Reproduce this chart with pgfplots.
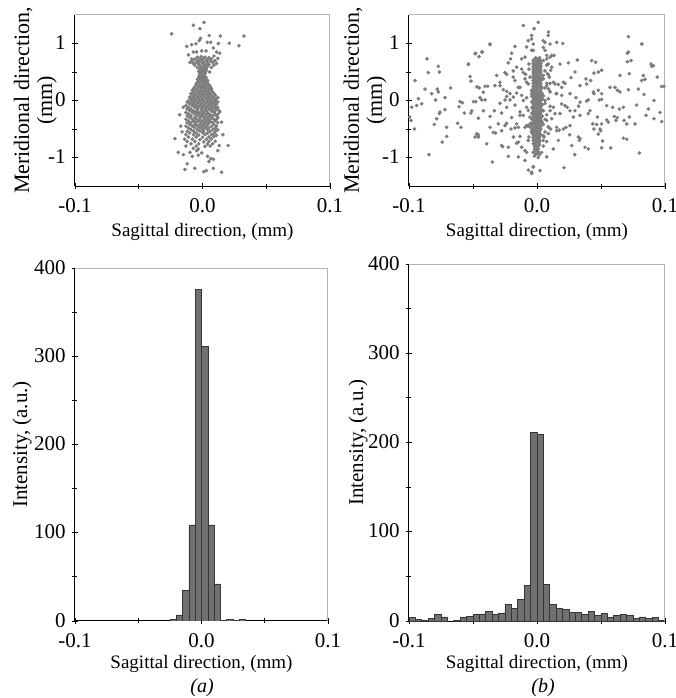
\documentclass[border=0pt]{standalone}
\usepackage{fontspec}
\setmainfont{Liberation Serif}
\usepackage{pgfplots}
\pgfplotsset{compat=1.18}

\definecolor{dotgray}{RGB}{125,125,125}
\definecolor{barfill}{RGB}{112,112,112}
\definecolor{baredge}{RGB}{55,55,55}
\definecolor{framegray}{RGB}{180,180,180}

\pgfplotsset{
  panel/.style={
    scale only axis, anchor=south west,
    axis x line*=bottom, axis y line*=left,
    axis line style={-, black, line width=0.5pt},
    xmin=-0.1, xmax=0.1,
    xtick={-0.1,0,0.1}, xticklabels={-0.1,0.0,0.1},
    minor xtick={-0.05,0.05},
    tick align=center, major tick length=3pt, minor tick length=2.5pt,
    tick style={black, line width=0.4pt},
    tick label style={font=\fontsize{10.5}{12}\selectfont, inner sep=0pt},
    xticklabel style={yshift=-4.6pt},
    yticklabel style={xshift=-3pt, yshift=0.4pt},
    xlabel={Sagittal direction, (mm)},
    xlabel style={font=\fontsize{9.5}{11}\selectfont, inner sep=0pt, anchor=north},
    ylabel style={inner sep=0pt, anchor=south, align=center},
  },
  scat/.style={panel, ymin=-1.5, ymax=1.5,
    ytick={-1,0,1}, yticklabels={-1,0,1}, minor ytick={-0.5,0.5},
    ylabel={Meridional direction,\\(mm)},
    ylabel style={font=\fontsize{11}{11.5}\selectfont},
    xlabel style={at={(axis description cs:0.5,-0.216)}},
  },
  hist/.style={panel, ymin=0, ymax=400,
    ytick={0,100,200,300,400}, yticklabels={0,100,200,300,400},
    minor ytick={50,150,250,350},
    ylabel={Intensity, (a.u.)},
    ylabel style={font=\fontsize{10.5}{12}\selectfont},
  },
  dots/.style={color=dotgray, only marks, mark=*, mark size=0.7pt, mark options={draw=none, fill=dotgray}},
  bars/.style={ybar, bar width=0.005, fill=barfill, draw=baredge, line width=0.3pt},
}

\begin{document}
\begin{tikzpicture}
\useasboundingbox (0,0) rectangle (338pt,349pt);

% top left scatter
\begin{axis}[scat, at={(37.5pt,256pt)}, width=127.5pt, height=85.5pt,
  ylabel style={at={(axis description cs:-0.07,0.5)}}]
\addplot[dots] coordinates {
(-0.0242,1.17)(-0.0072,1.32)(-0.002,1.26)(0.0012,1.37)(0.0053,1.14)(0.014,1.13)(0.0325,1.13)(0.021,1.005)(0.0286,0.96)(-0.0124,0.95)(-0.0085,0.98)(-0.0051,0.995)(-0.0025,1.05)(-0.0015,1.09)(0.0038,1.02)(0.0064,1.02)(0.0125,1.0)(0.0085,0.92)(-0.0072,0.85)(-0.0046,0.85)(-0.0006,0.87)(0.0028,0.87)(0.011,0.85)(0.0135,0.83)(-0.0085,0.73)(-0.0098,0.67)(-0.0072,0.65)(0.0098,0.7)(0.011,0.65)(0.0056,0.5)(0.003,0.56)(0.009,0.78)(0.012,0.74)(-0.011,0.8)
(-0.004,0.76)(-0.001,0.77)(0.002,0.76)(0.005,0.75)(-0.006,0.73)(-0.002,0.73)(0.001,0.74)(0.004,0.72)(0.007,0.73)(-0.008,0.70)(-0.004,0.70)(0,0.71)(0.003,0.70)(0.006,0.69)(-0.005,0.67)(-0.002,0.68)(0.001,0.67)(0.004,0.66)(0.008,0.67)(-0.003,0.64)(0,0.65)(0.002,0.63)(0.005,0.63)(-0.006,0.62)(-0.002,0.61)(0.001,0.60)(0.004,0.60)(-0.004,0.58)(-0.001,0.58)(0.002,0.57)(0.007,0.58)(0.009,0.62)
(-0.002,0.55)(0,0.555)(0.002,0.55)(-0.001,0.53)(0.001,0.53)(0.003,0.525)(-0.003,0.51)(-0.001,0.505)(0.001,0.50)(0.002,0.49)(-0.002,0.48)(0,0.475)(0.002,0.47)(-0.002,0.455)(0,0.45)(0.001,0.44)(-0.001,0.43)(0.002,0.42)(-0.003,0.42)(0,0.41)(0.003,0.40)(-0.002,0.39)(0.001,0.385)(-0.004,0.37)(-0.001,0.365)(0.002,0.36)(0.004,0.35)(-0.003,0.345)(0,0.34)(0.002,0.33)(-0.004,0.32)(-0.002,0.315)(0.001,0.31)(0.004,0.305)(-0.005,0.29)(-0.002,0.29)(0.001,0.285)(0.003,0.28)(0.005,0.275)(-0.004,0.265)(-0.001,0.26)(0.002,0.255)(0.006,0.25)
(-0.006,0.24)(-0.003,0.24)(0,0.235)(0.003,0.24)(0.006,0.235)(-0.007,0.21)(-0.004,0.21)(-0.001,0.215)(0.002,0.21)(0.005,0.205)(0.007,0.21)(-0.008,0.18)(-0.005,0.185)(-0.002,0.18)(0.001,0.18)(0.004,0.175)(0.007,0.18)(-0.007,0.15)(-0.004,0.15)(-0.001,0.155)(0.002,0.15)(0.005,0.145)(0.008,0.15)(-0.009,0.12)(-0.006,0.12)(-0.003,0.125)(0,0.12)(0.003,0.12)(0.006,0.115)(0.009,0.12)(-0.008,0.09)(-0.005,0.09)(-0.002,0.095)(0.001,0.09)(0.004,0.09)(0.007,0.085)(0.010,0.09)(-0.010,0.06)(-0.007,0.06)(-0.004,0.065)(-0.001,0.06)(0.002,0.06)(0.005,0.055)(0.008,0.06)(-0.009,0.03)(-0.006,0.03)(-0.003,0.035)(0,0.03)(0.003,0.03)(0.006,0.025)(0.009,0.03)(0.011,0.035)(-0.011,0.0)(-0.008,0.0)(-0.005,0.005)(-0.002,0.0)(0.001,0.0)(0.004,-0.005)(0.007,0.0)(0.010,0.0)
(-0.012,-0.03)(-0.009,-0.03)(-0.006,-0.025)(-0.003,-0.03)(0,-0.03)(0.003,-0.035)(0.006,-0.03)(0.009,-0.03)(0.012,-0.025)(-0.010,-0.06)(-0.007,-0.06)(-0.004,-0.055)(-0.001,-0.06)(0.002,-0.06)(0.005,-0.065)(0.008,-0.06)(0.011,-0.06)(-0.013,-0.09)(-0.008,-0.09)(-0.005,-0.085)(-0.002,-0.09)(0.001,-0.09)(0.004,-0.095)(0.007,-0.09)(0.010,-0.09)(-0.011,-0.12)(-0.006,-0.12)(-0.003,-0.115)(0,-0.12)(0.003,-0.12)(0.006,-0.125)(0.009,-0.12)(0.012,-0.12)(-0.012,-0.15)(-0.009,-0.15)(-0.004,-0.145)(-0.001,-0.15)(0.002,-0.15)(0.005,-0.155)(0.008,-0.15)(0.011,-0.15)(-0.010,-0.18)(-0.007,-0.18)(-0.004,-0.175)(0,-0.18)(0.003,-0.18)(0.007,-0.185)(0.010,-0.18)(0.013,-0.18)(-0.013,-0.21)(-0.008,-0.21)(-0.005,-0.205)(-0.002,-0.21)(0.001,-0.21)(0.004,-0.215)(0.009,-0.21)(-0.011,-0.24)(-0.006,-0.24)(-0.003,-0.235)(0,-0.24)(0.003,-0.24)(0.006,-0.245)(0.010,-0.24)(0.012,-0.24)(-0.012,-0.27)(-0.009,-0.27)(-0.004,-0.265)(-0.001,-0.27)(0.002,-0.27)(0.005,-0.275)(0.008,-0.27)(0.011,-0.27)(-0.010,-0.30)(-0.006,-0.30)(-0.002,-0.295)(0.001,-0.30)(0.004,-0.30)(0.007,-0.305)(0.012,-0.30)(-0.013,-0.33)(-0.008,-0.33)(-0.005,-0.325)(-0.002,-0.33)(0.002,-0.33)(0.005,-0.335)(0.009,-0.33)(0.011,-0.33)(-0.011,-0.36)(-0.007,-0.36)(-0.003,-0.355)(0,-0.36)(0.003,-0.36)(0.006,-0.365)(0.010,-0.36)(-0.012,-0.39)(-0.009,-0.39)(-0.005,-0.385)(-0.001,-0.39)(0.002,-0.39)(0.005,-0.395)(0.008,-0.39)(0.012,-0.39)(-0.010,-0.42)(-0.006,-0.42)(-0.002,-0.415)(0.001,-0.42)(0.004,-0.42)(0.009,-0.425)(-0.013,-0.45)(-0.008,-0.45)(-0.004,-0.445)(0,-0.45)(0.003,-0.45)(0.007,-0.455)(0.011,-0.45)(-0.011,-0.48)(-0.006,-0.48)(-0.002,-0.475)(0.002,-0.48)(0.005,-0.48)(0.010,-0.485)(-0.009,-0.51)(-0.004,-0.51)(0,-0.505)(0.004,-0.51)(0.008,-0.51)(0.012,-0.515)(-0.012,-0.54)(-0.007,-0.54)(-0.002,-0.535)(0.001,-0.54)(0.006,-0.54)(0.010,-0.545)(-0.010,-0.57)(-0.005,-0.57)(0,-0.565)(0.004,-0.57)(0.009,-0.575)(-0.013,-0.60)(-0.007,-0.60)(-0.003,-0.605)(0.002,-0.60)(0.007,-0.60)(0.011,-0.61)(-0.011,-0.64)(-0.005,-0.64)(0,-0.645)(0.005,-0.64)(0.009,-0.635)(-0.014,-0.68)(-0.008,-0.68)(-0.002,-0.685)(0.003,-0.68)(0.007,-0.675)(-0.012,-0.72)(-0.006,-0.72)(0.001,-0.725)(0.005,-0.72)(0.010,-0.715)(-0.009,-0.76)(-0.003,-0.76)(0.004,-0.765)(0.008,-0.76)(-0.013,-0.80)(-0.005,-0.80)(0.002,-0.805)(0.006,-0.80)
(-0.0216,-0.67)(-0.018,-0.25)(0.0202,-0.79)(0.0131,-0.79)(-0.019,-0.91)(-0.015,-0.95)(-0.0098,-0.91)(-0.0072,-0.84)(-0.0033,-0.85)(-0.0006,-0.92)(0.0065,-1.02)(0.005,-1.07)(-0.012,-1.11)(-0.0138,-1.21)(-0.006,-1.19)(0.003,-1.23)(0.0085,-1.19)(0.015,-1.26)(0.0085,-1.03)(-0.0033,-0.96)(-0.0046,-0.88)(0.001,-1.25)(0.004,-0.98)(0.012,-0.88)(-0.016,-0.55)(0.016,-0.6)(-0.017,-0.45)(0.015,-0.38)(0.0135,-0.2)(-0.015,-0.12)(0.012,0.05)(-0.008,-0.98)
};
\draw[framegray, line width=0.5pt] (rel axis cs:0,1) -- (rel axis cs:1,1) -- (rel axis cs:1,0);
\end{axis}

% top right scatter
\begin{axis}[scat, at={(204.5pt,256pt)}, width=128pt, height=85.5pt,
  ylabel style={at={(axis description cs:-0.086,0.5)}}]
\addplot[dots] coordinates {
(-0.001,0.75)(0.002,0.75)(-0.002,0.725)(0.001,0.725)(-0.003,0.70)(0,0.70)(0.003,0.70)(-0.001,0.675)(0.002,0.675)(-0.003,0.65)(0,0.65)(0.003,0.65)(-0.002,0.625)(0.001,0.625)(-0.003,0.60)(0,0.60)(0.003,0.60)(-0.001,0.575)(0.002,0.575)(-0.003,0.55)(0,0.55)(0.003,0.55)(-0.002,0.525)(0.001,0.525)(-0.003,0.50)(0,0.50)(0.003,0.50)(-0.001,0.475)(0.002,0.475)(-0.003,0.45)(0,0.45)(0.003,0.45)(-0.002,0.425)(0.001,0.425)(-0.003,0.40)(0,0.40)(0.003,0.40)(-0.001,0.375)(0.002,0.375)(-0.003,0.35)(0,0.35)(0.003,0.35)(-0.002,0.325)(0.001,0.325)(-0.003,0.30)(0,0.30)(0.003,0.30)(-0.001,0.275)(0.002,0.275)(-0.003,0.25)(0,0.25)(0.003,0.25)(-0.002,0.225)(0.001,0.225)(0.004,0.225)(-0.003,0.20)(0,0.20)(0.003,0.20)(-0.004,0.175)(-0.001,0.175)(0.002,0.175)(-0.003,0.15)(0,0.15)(0.003,0.15)(-0.002,0.125)(0.001,0.125)(0.004,0.125)(-0.003,0.10)(0,0.10)(0.003,0.10)(-0.004,0.075)(-0.001,0.075)(0.002,0.075)(-0.003,0.05)(0,0.05)(0.003,0.05)(-0.002,0.025)(0.001,0.025)(0.004,0.025)(-0.003,0.0)(0,0.0)(0.003,0.0)(-0.004,-0.025)(-0.001,-0.025)(0.002,-0.025)(-0.003,-0.05)(0,-0.05)(0.003,-0.05)(-0.002,-0.075)(0.001,-0.075)(0.004,-0.075)(-0.003,-0.10)(0,-0.10)(0.003,-0.10)(-0.004,-0.125)(-0.001,-0.125)(0.002,-0.125)(-0.003,-0.15)(0,-0.15)(0.003,-0.15)(-0.002,-0.175)(0.001,-0.175)(0.004,-0.175)(-0.003,-0.20)(0,-0.20)(0.003,-0.20)(-0.004,-0.225)(-0.001,-0.225)(0.002,-0.225)(-0.003,-0.25)(0,-0.25)(0.003,-0.25)(-0.002,-0.275)(0.001,-0.275)(0.004,-0.275)(-0.003,-0.30)(0,-0.30)(0.003,-0.30)(-0.004,-0.325)(-0.001,-0.325)(0.002,-0.325)(-0.003,-0.35)(0,-0.35)(0.003,-0.35)(-0.002,-0.375)(0.001,-0.375)(0.004,-0.375)(-0.005,-0.40)(-0.003,-0.40)(0,-0.40)(0.003,-0.40)(-0.006,-0.425)(-0.004,-0.425)(-0.001,-0.425)(0.002,-0.425)(-0.007,-0.45)(-0.003,-0.45)(0,-0.45)(0.003,-0.45)(-0.005,-0.475)(-0.002,-0.475)(0.001,-0.475)(-0.003,-0.50)(0,-0.50)(0.003,-0.50)(-0.001,-0.525)(0.002,-0.525)(-0.003,-0.55)(0,-0.55)(0.002,-0.55)(-0.002,-0.575)(0.001,-0.575)(-0.003,-0.60)(0,-0.60)(0.003,-0.60)(-0.001,-0.625)(0.002,-0.625)(-0.003,-0.65)(0,-0.65)(0.002,-0.65)(-0.002,-0.675)(0.001,-0.675)(-0.003,-0.70)(0,-0.70)(0.002,-0.70)(-0.001,-0.725)(0.002,-0.725)(-0.002,-0.75)(0.001,-0.75)(-0.001,-0.775)(0.002,-0.775)(-0.002,-0.80)(0.001,-0.80)(0,-0.825)(-0.002,-0.85)(0.001,-0.85)(0,-0.875)(-0.002,-0.90)(0.001,-0.90)(0,-0.925)(-0.001,-0.95)(0.002,-0.95)(-0.002,-0.975)(0.001,-1.0)
(-0.012,0.73)(-0.0159,0.585)(-0.0185,0.41)(-0.0094,0.38)(-0.0133,0.23)(-0.0068,0.29)(-0.0042,0.175)(-0.0185,0.06)(-0.0107,0.0)(-0.0081,-0.12)(-0.0133,-0.26)(-0.0159,-0.41)(-0.0094,-0.47)(-0.0042,-0.56)(-0.0068,-0.70)(-0.012,-0.82)(-0.0081,-0.91)(-0.0146,-0.99)(0.0076,0.73)(0.0115,0.585)(0.0049,0.44)(0.0128,0.32)(0.0089,0.205)(0.0154,0.12)(0.0063,0.0)(0.0128,-0.12)(0.018,-0.23)(0.0076,-0.35)(0.0154,-0.47)(0.0089,-0.58)(0.0049,-0.70)(0.0128,-0.85)(0.0076,-0.99)(0.0049,1.05)(0.0102,0.99)(0.0089,1.20)(-0.0042,1.14)(-0.0068,1.05)(-0.0081,0.94)(-0.0029,0.88)(0.0023,-1.23)(-0.0029,-1.16)
(-0.0094,0.76)(-0.0063,0.64)(-0.0042,0.88)(-0.0029,0.99)(-0.0081,0.32)(-0.0055,0.41)(-0.012,0.09)(-0.0081,0.047)(-0.0042,0.12)(-0.0029,-0.06)(-0.0068,-0.175)(-0.0107,-0.26)(-0.0055,-0.29)(-0.0133,-0.20)(-0.0029,-0.35)(-0.0081,-0.44)(-0.0042,-0.53)(-0.0063,-0.64)(-0.0029,-0.76)(-0.0094,-0.88)(-0.0029,-1.17)
(0.005,0.70)(0.0076,0.62)(0.0063,0.52)(0.0089,0.45)(0.005,0.38)(0.0076,0.30)(0.0063,0.22)(0.0102,0.16)(0.005,0.08)(0.0089,0.03)(0.0063,-0.05)(0.0102,-0.10)(0.005,-0.18)(0.0076,-0.25)(0.0063,-0.33)(0.005,-0.42)(0.0089,-0.46)(0.0063,-0.55)(0.005,-0.62)(0.0076,-0.72)(0.0050,-0.80)(0.0036,-0.91)(-0.0029,-0.91)
(0.001,1.37)(-0.0023,1.26)(0.0088,1.14)(0.0063,1.02)(0.0154,1.02)(0.0201,1.0)(0.0115,0.79)(0.0133,0.79)(0.018,0.64)(0.0315,0.71)(0.0427,0.70)(0.0458,0.67)(0.0297,0.50)(0.0445,0.48)(0.0479,0.50)(0.0505,0.53)(0.0383,0.38)(0.0419,0.35)(0.0336,0.26)(0.0388,0.29)(0.044,0.15)(0.0445,0.12)(0.057,0.23)(0.0609,0.23)(0.0628,0.18)(0.0648,0.15)(0.0714,1.12)(0.0706,0.83)(0.0734,0.70)(0.082,0.99)(0.0891,0.64)(0.0909,0.61)(0.094,0.41)(0.0992,0.25)(0.0831,0.44)(0.0844,0.37)(0.0818,0.35)(0.0721,0.47)(0.0714,0.19)(0.0648,0.44)(0.0792,0.20)(0.0836,0.105)(0.0914,0.0)(0.087,-0.15)(0.0852,-0.26)(0.0914,-0.32)(0.0974,-0.37)(0.0779,-0.08)(0.0643,-0.15)(0.0675,-0.12)(0.0591,-0.12)(0.0544,-0.09)(0.0505,0.02)(0.0487,0.01)(0.0604,-0.28)(0.0628,-0.30)(0.0617,-0.35)(0.068,-0.35)(0.0701,-0.41)(0.0766,-0.41)(0.0544,-0.34)(0.0557,-0.38)(0.0471,-0.29)(0.0435,-0.41)(0.0466,-0.42)(0.0505,-0.41)(0.0445,-0.50)(0.0492,-0.50)(0.0497,-0.53)(0.0479,-0.59)(0.0513,-0.71)(0.0505,-0.83)(0.0576,-0.83)(0.0675,-0.66)(0.0701,-0.68)(0.080,-0.92)(0.0375,-0.82)(0.0401,-0.85)(0.0323,-0.64)(0.0336,-0.67)(0.0331,-0.70)(0.0271,-0.79)(0.0211,-1.18)(0.0167,-0.70)(0.0206,-0.50)(0.0227,-0.47)(0.0258,-0.44)(0.0284,-0.29)(0.0336,-0.26)(0.0401,-0.23)(0.0414,-0.18)(0.0258,-0.18)(0.0297,-0.18)(0.0336,-0.03)(0.0388,-0.01)(0.0401,0.01)(0.0479,0.18)(0.0505,0.12)(0.0193,-0.06)(0.0219,-0.09)(0.0237,-0.12)(0.0102,-0.18)(0.0141,-0.23)(0.0115,-0.32)(0.0089,-0.47)(0.0107,-0.50)(0.0154,-0.53)(0.0174,-0.52)(0.0055,-0.64)(0.0076,0.26)(0.0102,0.30)(0.0141,0.29)(0.0167,0.28)(0.0206,0.32)(0.0219,0.30)(0.0193,0.23)(0.0102,0.15)(0.0149,0.12)(0.0193,0.09)(0.0258,0.12)(0.0089,0.64)(0.0107,0.53)(0.0096,0.41)(0.0081,0.47)(0.0076,0.79)(0.0102,0.76)(0.005,0.93)(0.0063,0.88)(-0.0042,-1.26)
(0.0714,0.85)(0.0706,0.68)(0.0896,0.60)(0.0818,0.99)(0.0722,-0.29)(0.0974,0.245)(0.0961,-0.21)
(-0.0107,1.316)(-0.0367,0.98)(-0.0479,0.83)(-0.0453,0.77)(-0.0427,0.85)(-0.0172,0.95)(-0.0198,0.83)(-0.0206,0.73)(-0.0859,0.73)(-0.0771,0.60)(-0.0763,0.50)(-0.0849,0.49)(-0.0953,0.35)(-0.0536,0.63)(-0.0523,0.42)(-0.0516,0.34)(-0.0315,0.44)(-0.025,0.49)(-0.0237,0.46)(-0.012,0.55)(-0.0107,0.49)(-0.0146,0.23)(-0.0172,0.35)(-0.0328,0.26)(-0.0289,0.26)(-0.0406,0.25)(-0.0385,0.25)(-0.0469,0.24)(-0.0451,0.22)(-0.0419,0.146)(-0.0432,0.01)(-0.0406,0.01)(-0.0445,0.05)(-0.0674,0.22)(-0.0779,0.20)(-0.0771,0.15)(-0.0875,0.20)(-0.0823,0.12)(-0.0792,0.01)(-0.0719,0.05)(-0.0927,0.03)(-0.0979,-0.117)(-0.094,-0.088)(-0.0901,-0.058)(-0.0995,-0.29)(-0.0984,-0.35)(-0.0958,-0.50)(-0.0758,-0.205)(-0.0763,-0.23)(-0.0784,-0.32)(-0.0719,-0.16)(-0.0802,-0.42)(-0.0706,-0.47)(-0.0706,-0.63)(-0.074,-0.73)(-0.0844,-0.95)(-0.062,-0.40)(-0.0594,-0.47)(-0.0602,-0.02)(-0.0583,-0.04)(-0.0609,-0.11)(-0.0568,-0.22)(-0.0516,-0.22)(-0.051,-0.18)(-0.0497,-0.02)(-0.0479,-0.02)(-0.0458,-0.31)(-0.0458,-0.60)(-0.0458,-0.64)(-0.0393,-0.76)(-0.0419,-0.18)(-0.0367,-0.28)(-0.0333,-0.18)(-0.0302,-0.41)(-0.0367,-0.47)(-0.0341,-0.56)(-0.0323,-0.57)(-0.0349,-1.08)(-0.0276,-0.79)(-0.0268,-0.81)(-0.0224,-0.82)(-0.0224,-0.98)(-0.0276,-0.53)(-0.025,-0.44)(-0.0237,-0.40)(-0.0203,-0.50)(-0.0172,-0.48)(-0.0146,-0.47)(-0.025,0.01)(-0.0237,0.07)(-0.0211,0.01)(-0.0263,0.19)(-0.0237,0.16)(-0.0146,-0.73)(-0.0133,-0.63)(-0.0094,-1.05)(-0.0068,-1.22)(-0.0042,-1.28)(-0.0089,0.46)(-0.0063,0.55)(-0.0042,1.08)(-0.0021,1.26)
(-0.0484,0.82)(-0.0432,0.85)(-0.0367,0.99)(-0.0536,0.64)(-0.0471,-0.585)(-0.0484,-0.64)
(-0.0289,-0.05)(-0.0237,-0.12)(-0.0211,0.12)(-0.0289,0.32)(-0.0198,-0.30)(-0.0276,-0.22)(-0.0185,0.52)(-0.0224,0.66)(-0.0159,0.13)(-0.0172,-0.08)(-0.0185,-0.64)(-0.0159,-0.75)
(0.0245,0.66)(0.0265,0.40)(0.0305,0.05)(0.0325,-0.10)(0.0255,-0.60)(0.0295,-0.95)
};
\draw[framegray, line width=0.5pt] (rel axis cs:0,1) -- (rel axis cs:1,1) -- (rel axis cs:1,0);
\end{axis}

% bottom left histogram
\begin{axis}[hist, at={(37.5pt,38.5pt)}, width=126.5pt, height=176.5pt,
  ylabel style={at={(axis description cs:-0.17,0.5)}},
  xlabel style={at={(axis description cs:0.5,-0.096)}}]
\addplot[bars] coordinates {
(-0.0225,2)(-0.0175,7)(-0.0125,35)(-0.0075,109)(-0.0025,376)(0.0025,311)
(0.0075,109)(0.0125,42)(0.0175,1)(0.0225,2)(0.0275,1)(0.0325,2)
};
\draw[framegray, line width=0.5pt] (rel axis cs:0,1) -- (rel axis cs:1,1) -- (rel axis cs:1,0);
\end{axis}

% bottom right histogram
\begin{axis}[hist, at={(204.5pt,38.5pt)}, width=128pt, height=178.5pt,
  ylabel style={at={(axis description cs:-0.16,0.5)}},
  xlabel style={at={(axis description cs:0.5,-0.095)}}]
\addplot[bars] coordinates {
(-0.0975,4)(-0.0925,2)(-0.0875,1)(-0.0825,3)(-0.0775,7.5)(-0.0725,4.5)
(-0.0625,1)(-0.0575,4)(-0.0525,5)(-0.0475,7.5)(-0.0425,8)(-0.0375,11)
(-0.0325,7.5)(-0.0275,9)(-0.0225,18.6)(-0.0175,14)(-0.0125,24.6)(-0.0075,39.5)
(-0.0025,211)(0.0025,209)(0.0075,41)(0.0125,19)(0.0175,14)(0.0225,13)
(0.0275,10)(0.0325,10)(0.0375,7.5)(0.0425,10.5)(0.0475,6)(0.0525,8.6)
(0.0575,4)(0.0625,6)(0.0675,7.5)(0.0725,6.5)(0.0775,2.6)(0.0825,4.5)
(0.0875,2.6)(0.0925,3.7)(0.0975,1)
};
\draw[framegray, line width=0.5pt] (rel axis cs:0,1) -- (rel axis cs:1,1) -- (rel axis cs:1,0);
\end{axis}

\node[font=\fontsize{10}{12}\selectfont\itshape] at (101pt,5pt) {(a)};
\node[font=\fontsize{10}{12}\selectfont\itshape] at (271.5pt,5pt) {(b)};
\end{tikzpicture}
\end{document}
